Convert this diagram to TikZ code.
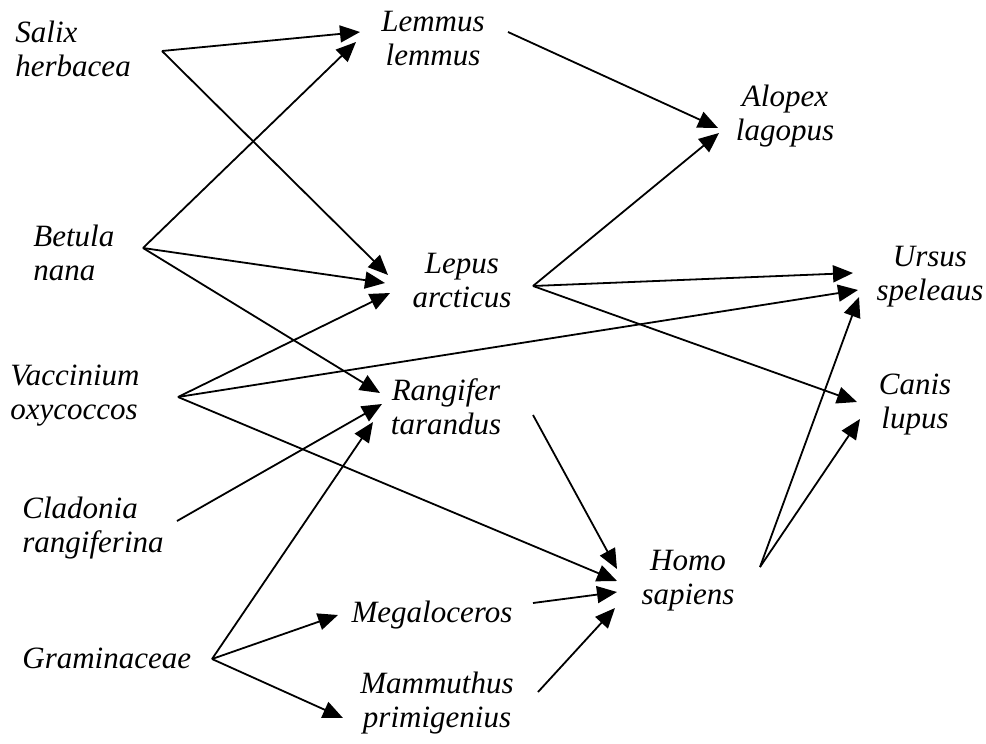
\documentclass[tikz,border=0pt]{standalone}
\usepackage{fontspec}
\setmainfont{Liberation Serif}
\usetikzlibrary{arrows.meta}
\begin{document}
\begin{tikzpicture}[x=0.5pt,y=-0.5pt,
    sp/.style={inner sep=0pt,font=\fontsize{15.5}{17}\selectfont\itshape},
    spl/.style={sp,align=left,anchor=base west},
    spc/.style={sp,align=center,anchor=base},
    eat/.style={-{Triangle[length=10pt,width=8.5pt]},line width=0.9pt}]
    \useasboundingbox (0,0) rectangle (986,744);
    % plants
    \node[spl] (salix) at (15,76) {Salix\\herbacea};
    \node[spl] (betula) at (33,280) {Betula\\nana};
    \node[spl] (vacc) at (10,419) {Vaccinium\\oxycoccos};
    \node[spl] (clad) at (22,552) {Cladonia\\rangiferina};
    \node[spl] (gram) at (22,668) {Graminaceae};
    % herbivores
    \node[spc] (lemmus) at (433,65) {Lemmus\\lemmus};
    \node[spc] (lepus) at (462,307) {Lepus\\arcticus};
    \node[spc] (rang) at (446,434) {Rangifer\\tarandus};
    \node[spc] (mega) at (432,622) {Megaloceros};
    \node[spc] (mamm) at (437,727) {Mammuthus\\primigenius};
    % predators
    \node[spc] (alopex) at (785,140) {Alopex\\lagopus};
    \node[spc] (ursus) at (930,300) {Ursus\\speleaus};
    \node[spc] (canis) at (915,428) {Canis\\lupus};
    \node[spc] (homo) at (688,604) {Homo\\sapiens};

    % start points
    \coordinate (salix-o) at (162,51);
    \coordinate (betula-o) at (143,248);
    \coordinate (vacc-o) at (178,397);
    \coordinate (clad-o) at (177,521);
    \coordinate (gram-o) at (212,659);
    \coordinate (lemmus-o) at (508,32);
    \coordinate (lepus-o) at (533,286);
    \coordinate (rang-o) at (533,415);
    \coordinate (mega-o) at (533,603);
    \coordinate (mamm-o) at (538,692);
    \coordinate (homo-o) at (760,567);
    % end points
    \coordinate (lemmus-1) at (360,32);
    \coordinate (lemmus-2) at (356,42);
    \coordinate (lepus-1) at (388,275);
    \coordinate (lepus-2) at (385,283);
    \coordinate (lepus-3) at (390,293);
    \coordinate (rang-1) at (380,393);
    \coordinate (rang-2) at (382,404);
    \coordinate (rang-3) at (373,422);
    \coordinate (mega-1) at (338,615);
    \coordinate (mamm-1) at (343,718);
    \coordinate (alopex-1) at (718,128);
    \coordinate (alopex-2) at (719,133);
    \coordinate (ursus-1) at (853,273);
    \coordinate (ursus-2) at (858,290);
    \coordinate (ursus-3) at (859,297);
    \coordinate (canis-1) at (857,402);
    \coordinate (canis-2) at (860,419);
    \coordinate (homo-1) at (617,569);
    \coordinate (homo-2) at (617,581);
    \coordinate (homo-3) at (617,592);
    \coordinate (homo-4) at (615,608);

    \draw[eat] (salix-o)--(lemmus-1);
    \draw[eat] (salix-o)--(lepus-1);
    \draw[eat] (betula-o)--(lemmus-2);
    \draw[eat] (betula-o)--(lepus-2);
    \draw[eat] (betula-o)--(rang-1);
    \draw[eat] (vacc-o)--(lepus-3);
    \draw[eat] (vacc-o)--(ursus-2);
    \draw[eat] (vacc-o)--(homo-2);
    \draw[eat] (clad-o)--(rang-2);
    \draw[eat] (gram-o)--(rang-3);
    \draw[eat] (gram-o)--(mega-1);
    \draw[eat] (gram-o)--(mamm-1);
    \draw[eat] (lemmus-o)--(alopex-1);
    \draw[eat] (lepus-o)--(alopex-2);
    \draw[eat] (lepus-o)--(ursus-1);
    \draw[eat] (lepus-o)--(canis-1);
    \draw[eat] (rang-o)--(homo-1);
    \draw[eat] (mega-o)--(homo-3);
    \draw[eat] (mamm-o)--(homo-4);
    \draw[eat] (homo-o)--(ursus-3);
    \draw[eat] (homo-o)--(canis-2);
\end{tikzpicture}
\end{document}
